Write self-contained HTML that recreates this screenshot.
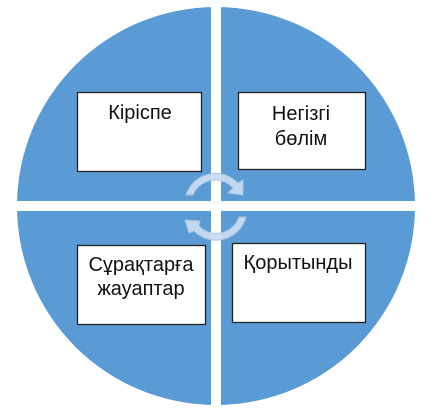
<!DOCTYPE html>
<html><head><meta charset="utf-8"><style>
html,body{margin:0;padding:0;background:#fff;}
body{width:434px;height:415px;overflow:hidden;}
text{font-family:"Liberation Sans",sans-serif;font-size:20px;fill:#111;}
</style></head><body>
<svg width="434" height="415" viewBox="0 0 434 415" xmlns="http://www.w3.org/2000/svg">
<defs><clipPath id="c"><circle cx="216" cy="206" r="199"/></clipPath></defs>
<g clip-path="url(#c)" fill="#5b9bd5">
<rect x="0" y="0" width="211" height="201"/>
<rect x="221" y="0" width="220" height="201"/>
<rect x="0" y="211" width="211" height="210"/>
<rect x="221" y="211" width="220" height="210"/>
</g>
<g fill="#fff" stroke="#222" stroke-width="1.3">
<rect x="77.5" y="92.5" width="124" height="79"/>
<rect x="238.5" y="92.5" width="127" height="77"/>
<rect x="77.5" y="245.5" width="128" height="79"/>
<rect x="232.5" y="243.5" width="133" height="79"/>
</g>
<text x="140" y="119" text-anchor="middle">Кіріспе</text>
<text x="301" y="120" text-anchor="middle">Негізгі</text>
<text x="301" y="145" text-anchor="middle">бөлім</text>
<text x="141" y="271" text-anchor="middle">Сұрақтарға</text>
<text x="141" y="295" text-anchor="middle">жауаптар</text>
<text x="298" y="269" text-anchor="middle">Қорытынды</text>
<g fill="#c9dcf0" stroke="#a9c6e6" stroke-width="1" opacity="0.95">
<path d="M186 195 A31 31 0 0 1 238 183 L243 180 L243 195 L228 193 L233 188 A24 24 0 0 0 193 195 Z"/>
<path d="M246 217 A31 31 0 0 1 194 231 L189 233 L185 220 L200 221 L199 226 A24 24 0 0 0 239 217 Z"/>
</g>
</svg>
</body></html>
